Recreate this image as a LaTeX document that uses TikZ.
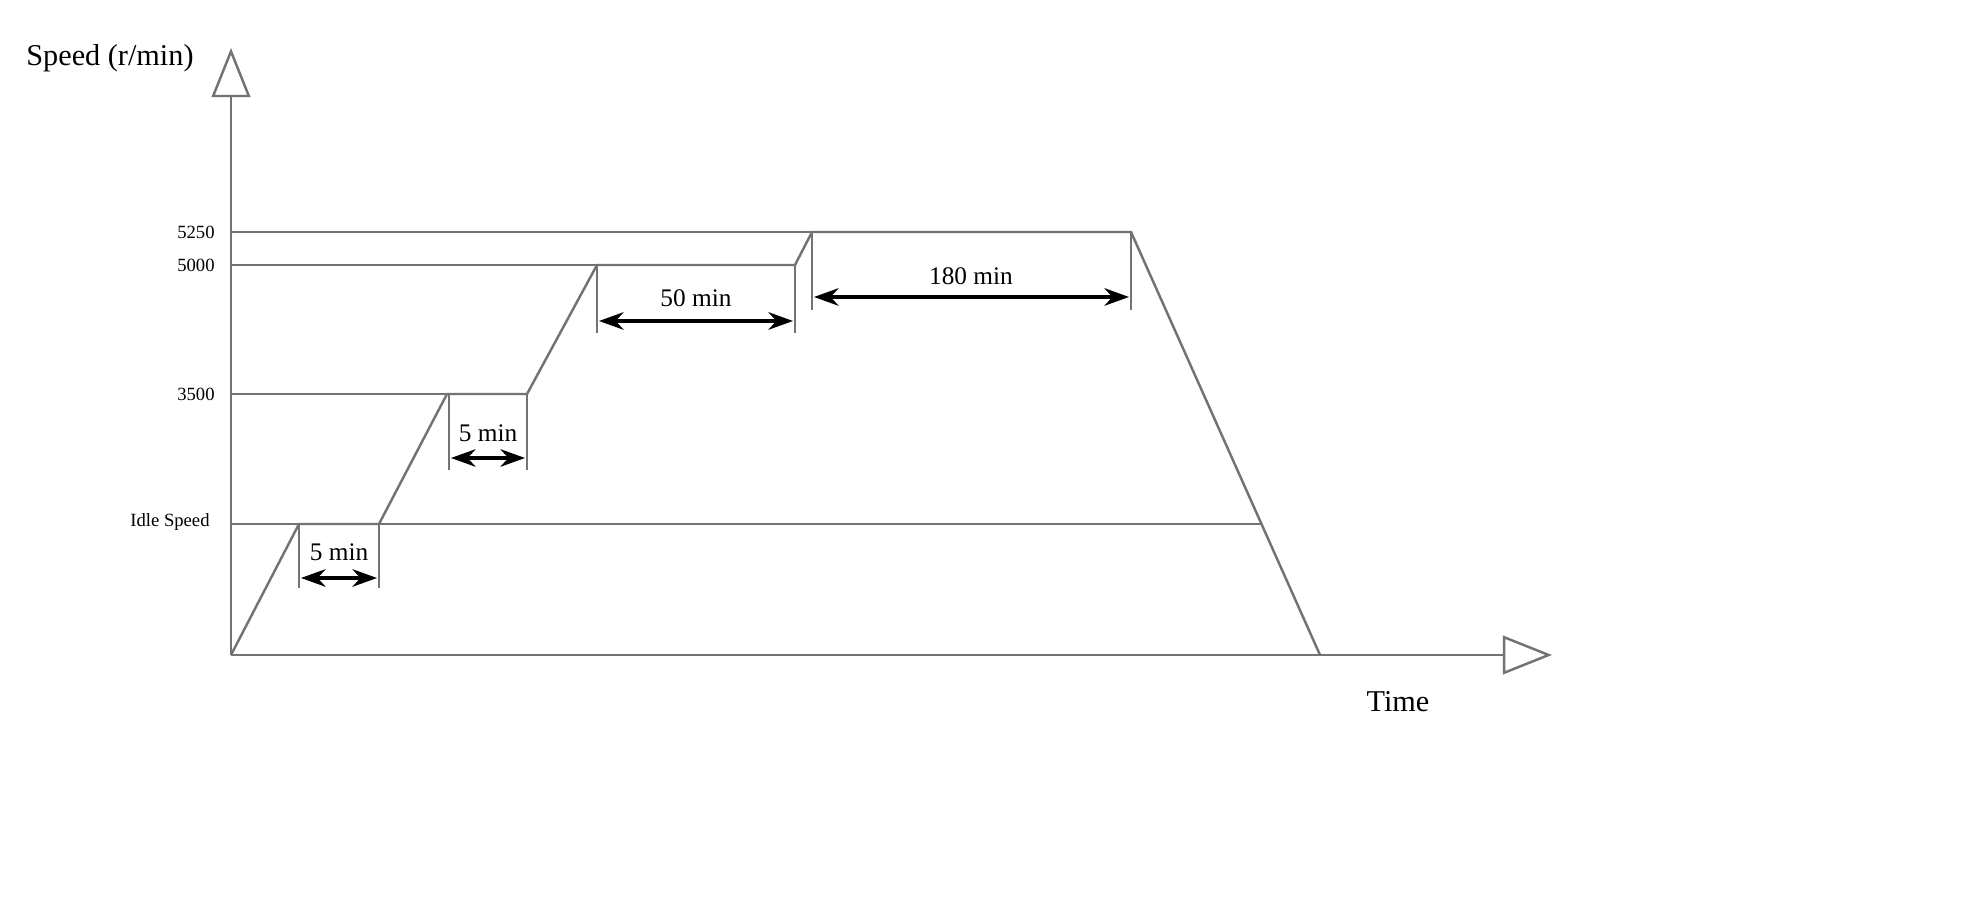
\documentclass[tikz,border=0pt]{standalone}
\usepackage{fontspec}
\setmainfont{Liberation Serif}
\usetikzlibrary{arrows.meta}
\begin{document}
\begin{tikzpicture}[x=0.01cm,y=-0.01cm,
  ln/.style={draw=black!55,line width=0.7pt},
  dim/.style={draw=black,line width=0.9pt,{Stealth[length=7pt,width=5pt]}-{Stealth[length=7pt,width=5pt]}},
  ax/.style={draw=black!55,line width=0.7pt,-{Triangle[open,length=14pt,width=11pt,fill=white]}},
  lab/.style={font=\fontsize{7.2}{8}\selectfont},
  tick/.style={font=\fontsize{5.3}{6}\selectfont,anchor=east}]
\useasboundingbox (0,0) rectangle (1970,919);
\coordinate (O) at (231,655);
\coordinate (Ytop) at (231,48);
\coordinate (Xend) at (1552,655);
\draw[ax] (O) -- (Ytop);
\draw[ax] (O) -- (Xend);
\node[font=\fontsize{8.6}{10}\selectfont,anchor=west] (ylab) at (14,58) {Speed (r/min)};
\node[font=\fontsize{8.6}{10}\selectfont] (xlab) at (1398,702) {Time};
\node[tick] (t1) at (227,232) {5250};
\node[tick] (t2) at (227,265) {5000};
\node[tick] (t3) at (227,394) {3500};
\node[tick] (t4) at (222,522) {Idle Speed};
% profile
\coordinate (p1) at (299,524); \coordinate (p2) at (379,524);
\coordinate (p3) at (447,394); \coordinate (p4) at (527,394);
\coordinate (p5) at (597,265); \coordinate (p6) at (795,265);
\coordinate (p7) at (812,232); \coordinate (p8) at (1131,232);
\coordinate (p9) at (1320,655); \coordinate (pi) at (1262,524);
\draw[ln] (O) -- (p1) -- (p2) -- (p3) -- (p4) -- (p5) -- (p6) -- (p7) -- (p8) -- (p9);
\draw[ln] (231,524) -- (pi);
\draw[ln] (231,394) -- (p4);
\draw[ln] (231,265) -- (p6);
\draw[ln] (231,232) -- (p7);
% ticks
\draw[ln] (p1) -- (299,588); \draw[ln] (p2) -- (379,588);
\draw[ln] (449,394) -- (449,470); \draw[ln] (p4) -- (527,470);
\draw[ln] (p5) -- (597,333); \draw[ln] (p6) -- (795,333);
\draw[ln] (p7) -- (812,310); \draw[ln] (p8) -- (1131,310);
% dimensions
\coordinate (a1) at (301,578); \coordinate (a2) at (377,578);
\coordinate (b1) at (451,458); \coordinate (b2) at (525,458);
\coordinate (c1) at (599,321); \coordinate (c2) at (793,321);
\coordinate (d1) at (814,297); \coordinate (d2) at (1129,297);
\draw[dim] (a1) -- (a2); \draw[dim] (b1) -- (b2);
\draw[dim] (c1) -- (c2); \draw[dim] (d1) -- (d2);
\node[lab] (l1) at (339,552) {5 min};
\node[lab] (l2) at (488,433) {5 min};
\node[lab] (l3) at (696,298) {50 min};
\node[lab] (l4) at (971,276) {180 min};
\end{tikzpicture}
\end{document}
